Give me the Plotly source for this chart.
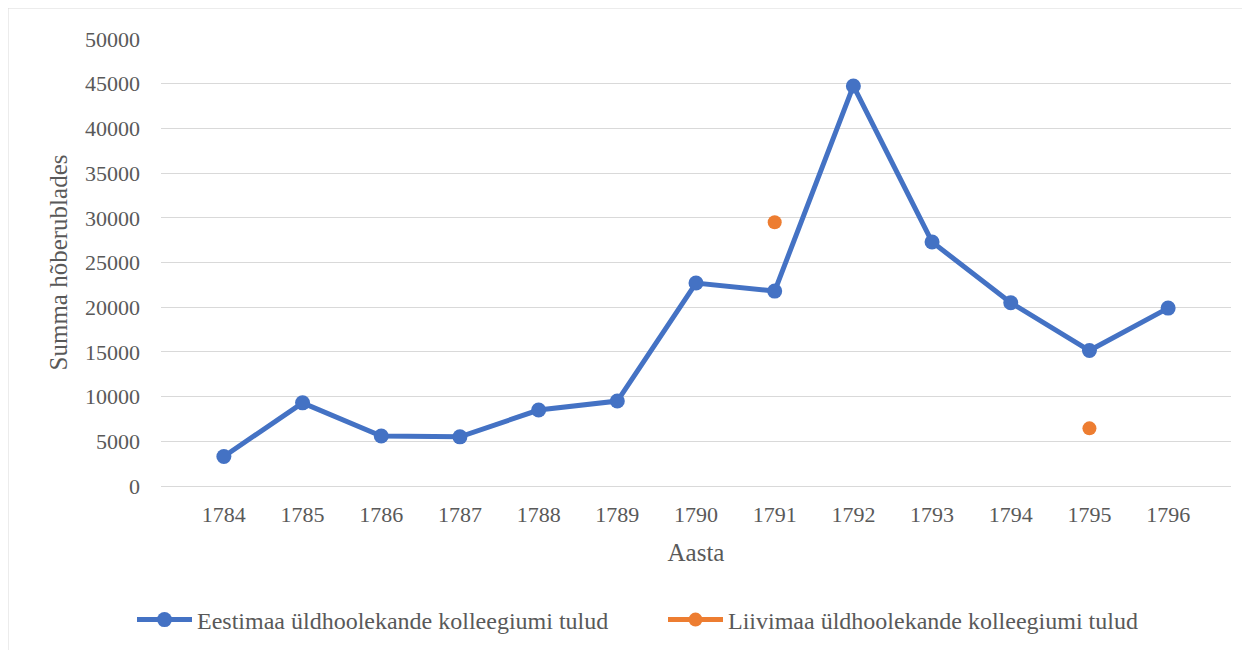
import plotly.graph_objects as go

years = ["1784", "1785", "1786", "1787", "1788", "1789", "1790", "1791", "1792", "1793", "1794", "1795", "1796"]
eestimaa = [3300, 9300, 5600, 5500, 8500, 9500, 22700, 21800, 44750, 27300, 20500, 15150, 19900]
liivimaa = [None, None, None, None, None, None, None, 29500, None, None, None, 6450, None]

name_e = "Eestimaa üldhoolekande kolleegiumi tulud"
name_l = "Liivimaa üldhoolekande kolleegiumi tulud"

FONT = "Liberation Serif, Times New Roman, serif"
GRAY = "#595959"

fig = go.Figure()
fig.add_trace(go.Scatter(x=years, y=eestimaa, name=name_e, mode="lines+markers",
                         line=dict(color="#4472C4", width=5),
                         marker=dict(color="#4472C4", size=15)))
fig.add_trace(go.Scatter(x=years, y=liivimaa, name=name_l, mode="lines+markers",
                         connectgaps=False,
                         line=dict(color="#ED7D31", width=5),
                         marker=dict(color="#ED7D31", size=14)))

OFF = 8  # page offset
L, R, T, B = 161 - OFF, 27, 39 - OFF, 172
W, H = 1250, 650
pw = W - L - R
ph = H - T - B

fig.update_layout(
    width=W, height=H,
    margin=dict(l=L, r=R, t=T, b=B, autoexpand=False),
    paper_bgcolor="white", plot_bgcolor="white",
    font=dict(family=FONT, color=GRAY, size=22),
    showlegend=True,
    legend=dict(orientation="h", xref="paper", x=(137 - OFF - 5 - L) / pw, xanchor="left",
                yref="paper", y=(486 - 620) / ph, yanchor="middle",
                font=dict(family=FONT, size=24, color=GRAY),
                itemwidth=55,
                traceorder="normal", entrywidth=461, entrywidthmode="pixels"),
    xaxis=dict(type="category", showgrid=False, zeroline=False, showline=False,
               ticks="", tickfont=dict(size=22, color=GRAY), ticklabelstandoff=13,
               tickangle=0,
               title=dict(text="Aasta", font=dict(size=25, color=GRAY), standoff=17)),
    yaxis=dict(range=[0, 50000], dtick=5000, tickformat="d", showgrid=True,
               gridcolor="#d9d9d9", gridwidth=1, zeroline=True, zerolinecolor="#d9d9d9",
               zerolinewidth=1, showline=False, ticks="",
               tickfont=dict(size=22, color=GRAY), ticklabelstandoff=20,
               title=dict(text="Summa hõberublades", font=dict(size=25, color=GRAY), standoff=10)),
    shapes=[dict(type="rect", xref="paper", yref="paper",
                 x0=(0 - L) / pw, x1=(W + 5 - L) / pw,
                 y0=(H - B - (H + 5)) / ph, y1=(H - B - 0) / ph,
                 line=dict(color="#d9d9d9", width=1), fillcolor="rgba(0,0,0,0)", layer="below")],
)

fig.write_html("out.html")
